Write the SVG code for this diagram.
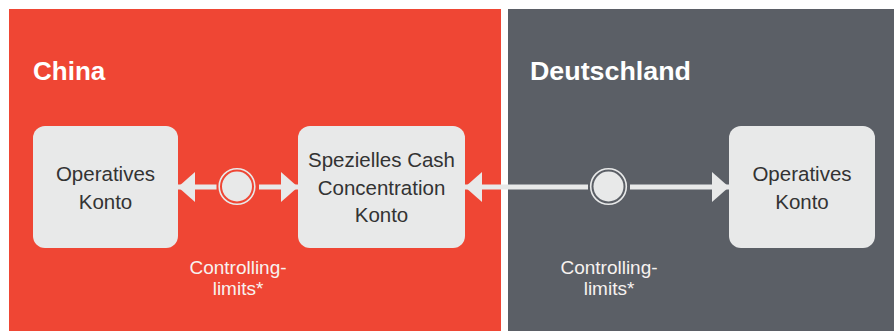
<svg xmlns="http://www.w3.org/2000/svg" width="894" height="331" viewBox="0 0 894 331">
  <style>
    .title { font-family: "Liberation Sans", Arial, sans-serif; font-weight: bold; font-size: 26px; fill: #ffffff; }
    .box { fill: #e8e9e9; }
    .label { font-family: "Liberation Sans", Arial, sans-serif; font-size: 20.5px; fill: #333333; text-anchor: middle; }
    .note { font-family: "Liberation Sans", Arial, sans-serif; font-size: 19px; fill: #f7f2f0; text-anchor: middle; }
    .conn { stroke: #e8e9e9; stroke-width: 5; fill: none; }
    .ring { fill: none; stroke: #e8e9e9; stroke-width: 1.6; }
    .dot { fill: #e8e9e9; }
  </style>
  <defs>
    <marker id="head" markerUnits="userSpaceOnUse" markerWidth="17" markerHeight="30" refX="17" refY="15" orient="auto-start-reverse" viewBox="0 0 17 30">
      <path d="M0,0 L17,15 L0,30 Z" fill="#e8e9e9"/>
    </marker>
  </defs>
  <rect width="894" height="331" fill="#ffffff"/>
  <g id="panel-china">
    <rect x="9" y="9" width="492" height="322" fill="#ef4634"/>
    <text class="title" x="33" y="80">China</text>
  </g>
  <g id="panel-deutschland">
    <rect x="508" y="9" width="386" height="322" fill="#5b5f66"/>
    <text class="title" x="530" y="80" textLength="161" lengthAdjust="spacingAndGlyphs">Deutschland</text>
  </g>
  <g id="connectors">
    <line class="conn" x1="178" y1="187" x2="216.5" y2="187" marker-start="url(#head)"/>
    <line class="conn" x1="259" y1="187" x2="298" y2="187" marker-end="url(#head)"/>
    <line class="conn" x1="465" y1="187" x2="588" y2="187" marker-start="url(#head)"/>
    <line class="conn" x1="630" y1="187" x2="729" y2="187" marker-end="url(#head)"/>
  </g>
  <g id="node-china-operativ">
    <rect class="box" x="33" y="126" width="145" height="122" rx="12"/>
    <text class="label" x="105.5" y="181">Operatives</text>
    <text class="label" x="105.5" y="208.5">Konto</text>
  </g>
  <g id="node-cash-concentration">
    <rect class="box" x="298" y="126" width="167" height="122" rx="12"/>
    <text class="label" x="381.5" y="167">Spezielles Cash</text>
    <text class="label" x="381.5" y="195">Concentration</text>
    <text class="label" x="381.5" y="222">Konto</text>
  </g>
  <g id="node-de-operativ">
    <rect class="box" x="729" y="126" width="146" height="122" rx="12"/>
    <text class="label" x="802" y="181">Operatives</text>
    <text class="label" x="802" y="208.5">Konto</text>
  </g>
  <g id="limit-china">
    <circle class="ring" cx="237" cy="186.5" r="17.8"/>
    <circle class="dot" cx="237" cy="186.5" r="15"/>
    <text class="note" x="238" y="273.5">Controlling-</text>
    <text class="note" x="238" y="295">limits*</text>
  </g>
  <g id="limit-deutschland">
    <circle class="ring" cx="608.5" cy="186.5" r="17.8"/>
    <circle class="dot" cx="608.5" cy="186.5" r="15"/>
    <text class="note" x="609" y="273.5">Controlling-</text>
    <text class="note" x="609" y="295">limits*</text>
  </g>
</svg>
